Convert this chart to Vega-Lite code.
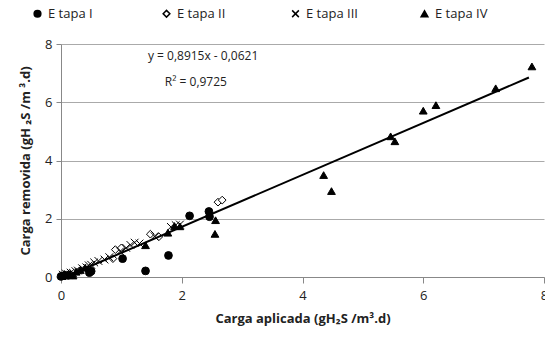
{
  "$schema": "https://vega.github.io/schema/vega-lite/v6.json",
  "autosize": "none",
  "width": 483,
  "height": 233,
  "padding": {"left": 61, "top": 44, "right": 1, "bottom": 70},
  "background": "white",
  "config": {"view": {"stroke": null}, "font": "Open Sans"},
  "layer": [
    {
      "data": {"values": [
        {"etapa": "E tapa  I", "x": 0.0, "y": 0.02},
        {"etapa": "E tapa  I", "x": 0.05, "y": 0.05},
        {"etapa": "E tapa  I", "x": 0.12, "y": 0.06},
        {"etapa": "E tapa  I", "x": 0.47, "y": 0.15},
        {"etapa": "E tapa  I", "x": 0.5, "y": 0.2},
        {"etapa": "E tapa  I", "x": 1.02, "y": 0.63},
        {"etapa": "E tapa  I", "x": 1.4, "y": 0.21},
        {"etapa": "E tapa  I", "x": 1.78, "y": 0.74},
        {"etapa": "E tapa  I", "x": 2.13, "y": 2.1},
        {"etapa": "E tapa  I", "x": 2.45, "y": 2.25},
        {"etapa": "E tapa  I", "x": 2.46, "y": 2.07},
        {"etapa": "E tapa  II", "x": 0.05, "y": 0.04},
        {"etapa": "E tapa  II", "x": 0.3, "y": 0.2},
        {"etapa": "E tapa  II", "x": 0.86, "y": 0.63},
        {"etapa": "E tapa  II", "x": 0.9, "y": 0.94},
        {"etapa": "E tapa  II", "x": 1.0, "y": 1.0},
        {"etapa": "E tapa  II", "x": 1.48, "y": 1.47},
        {"etapa": "E tapa  II", "x": 1.62, "y": 1.38},
        {"etapa": "E tapa  II", "x": 2.6, "y": 2.57},
        {"etapa": "E tapa  II", "x": 2.67, "y": 2.64},
        {"etapa": "E tapa  III", "x": 0.03, "y": 0.08},
        {"etapa": "E tapa  III", "x": 0.05, "y": 0.05},
        {"etapa": "E tapa  III", "x": 0.08, "y": 0.12},
        {"etapa": "E tapa  III", "x": 0.12, "y": 0.08},
        {"etapa": "E tapa  III", "x": 0.16, "y": 0.15},
        {"etapa": "E tapa  III", "x": 0.2, "y": 0.14},
        {"etapa": "E tapa  III", "x": 0.24, "y": 0.2},
        {"etapa": "E tapa  III", "x": 0.28, "y": 0.22},
        {"etapa": "E tapa  III", "x": 0.35, "y": 0.3},
        {"etapa": "E tapa  III", "x": 0.38, "y": 0.25},
        {"etapa": "E tapa  III", "x": 0.42, "y": 0.33},
        {"etapa": "E tapa  III", "x": 0.46, "y": 0.4},
        {"etapa": "E tapa  III", "x": 0.5, "y": 0.42},
        {"etapa": "E tapa  III", "x": 0.55, "y": 0.5},
        {"etapa": "E tapa  III", "x": 0.62, "y": 0.55},
        {"etapa": "E tapa  III", "x": 0.72, "y": 0.6},
        {"etapa": "E tapa  III", "x": 0.8, "y": 0.68},
        {"etapa": "E tapa  III", "x": 0.98, "y": 0.88},
        {"etapa": "E tapa  III", "x": 1.08, "y": 1.0},
        {"etapa": "E tapa  III", "x": 1.15, "y": 1.1},
        {"etapa": "E tapa  III", "x": 1.22, "y": 1.18},
        {"etapa": "E tapa  III", "x": 1.3, "y": 1.15},
        {"etapa": "E tapa  III", "x": 1.55, "y": 1.4},
        {"etapa": "E tapa  III", "x": 1.82, "y": 1.72},
        {"etapa": "E tapa  III", "x": 1.9, "y": 1.78},
        {"etapa": "E tapa  III", "x": 1.97, "y": 1.8},
        {"etapa": "E tapa  IV", "x": 0.02, "y": 0.03},
        {"etapa": "E tapa  IV", "x": 0.06, "y": 0.1},
        {"etapa": "E tapa  IV", "x": 0.08, "y": 0.06},
        {"etapa": "E tapa  IV", "x": 0.15, "y": 0.1},
        {"etapa": "E tapa  IV", "x": 0.2, "y": 0.05},
        {"etapa": "E tapa  IV", "x": 0.25, "y": 0.18},
        {"etapa": "E tapa  IV", "x": 0.32, "y": 0.24},
        {"etapa": "E tapa  IV", "x": 0.4, "y": 0.32},
        {"etapa": "E tapa  IV", "x": 1.4, "y": 1.09},
        {"etapa": "E tapa  IV", "x": 1.77, "y": 1.52},
        {"etapa": "E tapa  IV", "x": 1.88, "y": 1.75},
        {"etapa": "E tapa  IV", "x": 1.97, "y": 1.74},
        {"etapa": "E tapa  IV", "x": 2.56, "y": 1.95},
        {"etapa": "E tapa  IV", "x": 2.55, "y": 1.48},
        {"etapa": "E tapa  IV", "x": 4.35, "y": 3.5},
        {"etapa": "E tapa  IV", "x": 4.48, "y": 2.95},
        {"etapa": "E tapa  IV", "x": 5.46, "y": 4.83},
        {"etapa": "E tapa  IV", "x": 5.53, "y": 4.66},
        {"etapa": "E tapa  IV", "x": 6.0, "y": 5.71},
        {"etapa": "E tapa  IV", "x": 6.21, "y": 5.9},
        {"etapa": "E tapa  IV", "x": 7.2, "y": 6.48},
        {"etapa": "E tapa  IV", "x": 7.8, "y": 7.23}
      ]},
      "mark": {"type": "point", "stroke": "black", "strokeWidth": 1, "opacity": 1, "size": 60},
      "encoding": {
        "x": {"field": "x", "type": "quantitative", "scale": {"domain": [0, 8], "nice": false},
          "axis": {"values": [0, 2, 4, 6, 8], "format": "d", "labelFlush": false, "grid": false, "domainColor": "#888", "tickColor": "#888", "tickSize": 6,
            "labelFontSize": 13, "labelColor": "#222", "labelPadding": 6,
            "title": "Carga aplicada (gH₂S /m³.d)", "titleFontSize": 13, "titleFontWeight": "bold", "titleColor": "#222", "titlePadding": 10}},
        "y": {"field": "y", "type": "quantitative", "scale": {"domain": [0, 8], "nice": false},
          "axis": {"values": [0, 2, 4, 6, 8], "format": "d", "labelFlush": false, "grid": true, "gridColor": "#aaa", "domainColor": "#888", "tickColor": "#888", "tickSize": 5,
            "labelFontSize": 13, "labelColor": "#222", "labelPadding": 4,
            "title": "Carga removida (gH ₂S /m ³.d)", "titleFontSize": 13, "titleFontWeight": "bold", "titleColor": "#222", "titlePadding": 12}},
        "shape": {"field": "etapa", "type": "nominal", "scale": {"domain": ["E tapa  I", "E tapa  II", "E tapa  III", "E tapa  IV"], "range": ["circle", "diamond", "M-1,-1L1,1M-1,1L1,-1", "triangle-up"]},
          "legend": {"title": null, "orient": "none", "legendX": -30, "legendY": -37, "direction": "horizontal", "columns": 4, "gridAlign": "all", "columnPadding": 56, "labelFontSize": 13, "labelColor": "#222", "symbolSize": 45,
            "encode": {"symbols": {"update": {"stroke": {"value": "black"}, "strokeWidth": {"value": 1}}}}}},
        "fill": {"field": "etapa", "type": "nominal", "scale": {"domain": ["E tapa  I", "E tapa  II", "E tapa  III", "E tapa  IV"], "range": ["black", "white", "transparent", "black"]}}
      }
    },
    {
      "data": {"values": [{"x": 0.07, "y": 0.0}, {"x": 7.75, "y": 6.85}]},
      "mark": {"type": "line", "color": "black", "strokeWidth": 2},
      "encoding": {"x": {"field": "x", "type": "quantitative"}, "y": {"field": "y", "type": "quantitative"}}
    },
    {
      "data": {"values": [{"x": 1.44, "y": 7.58, "t": "y = 0,8915x - 0,0621"}, {"x": 1.72, "y": 6.68, "t": "R² = 0,9725"}]},
      "mark": {"type": "text", "align": "left", "baseline": "middle", "fontSize": 12, "color": "#222"},
      "encoding": {"x": {"field": "x", "type": "quantitative"}, "y": {"field": "y", "type": "quantitative"}, "text": {"field": "t"}}
    }
  ]
}
